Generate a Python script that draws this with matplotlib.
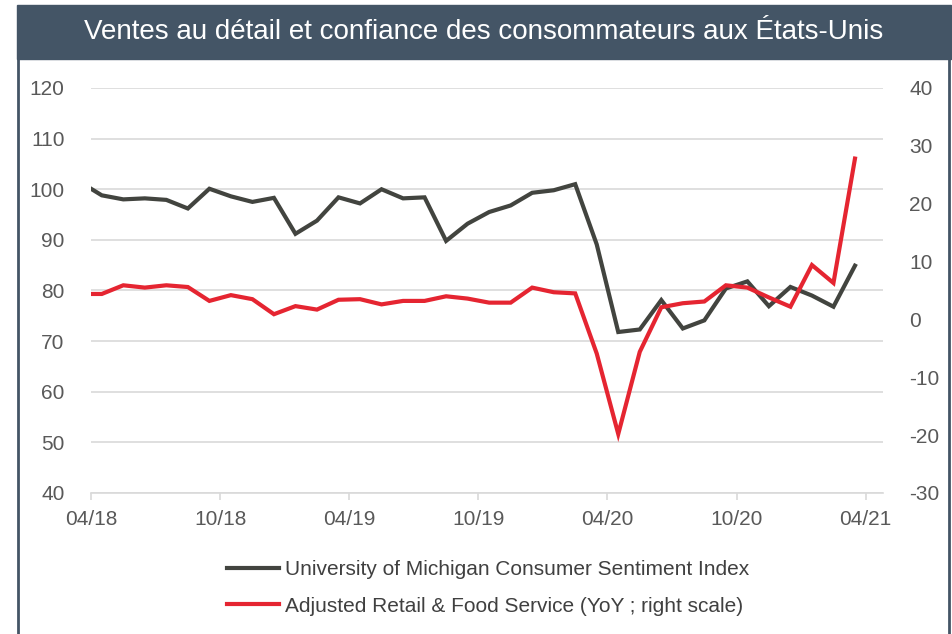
import numpy as np
import matplotlib
matplotlib.use("Agg")
import matplotlib.pyplot as plt
from matplotlib.patches import Rectangle
from matplotlib.lines import Line2D

plt.rcParams['font.family'] = ['Liberation Sans', 'DejaVu Sans']
plt.rcParams['axes.unicode_minus'] = False

# données mensuelles, de 03/2018 à 03/2021
sentiment = [101.4, 98.8, 98.0, 98.2, 97.9, 96.2, 100.1, 98.6, 97.5, 98.3,
             91.2, 93.8, 98.4, 97.2, 100.0, 98.2, 98.4, 89.8, 93.2, 95.5, 96.8, 99.3,
             99.8, 101.0, 89.1, 71.8, 72.3, 78.1, 72.5, 74.1, 80.4, 81.8, 76.9, 80.7,
             79.0, 76.8, 84.9]
retail_yoy = [4.4, 4.4, 5.9, 5.5, 5.9, 5.6, 3.2, 4.2, 3.5, 0.9,
              2.3, 1.7, 3.4, 3.5, 2.6, 3.2, 3.2, 4.0, 3.6, 2.9, 2.9, 5.5,
              4.7, 4.5, -5.9, -19.8, -5.6, 2.1, 2.8, 3.1, 5.9, 5.5, 3.8, 2.2,
              9.4, 6.3, 27.8]
tick_labels = ['04/18', '10/18', '04/19', '10/19', '04/20', '10/20', '04/21']
label_sentiment = 'University of Michigan Consumer Sentiment Index'
label_retail = 'Adjusted Retail & Food Service (YoY ; right scale)'
title = 'Ventes au détail et confiance des consommateurs aux États-Unis'

slate = '#445566'
dark = '#42443f'
red = '#e52531'
txt = '#595959'

# mois centrés : 04/18 = 0.5
x = np.arange(len(sentiment)) - 0.5

fig = plt.figure(figsize=(9.53, 6.34), dpi=100)
ax = fig.add_axes([0.0955, 0.2224, 0.831, 0.6388])
ax2 = ax.twinx()

ax.plot(x, sentiment, color=dark, lw=3, solid_joinstyle='miter', label=label_sentiment)
ax2.plot(x, retail_yoy, color=red, lw=3, solid_joinstyle='miter', label=label_retail)

ax.set_xlim(0, 36.8)
ax.set_ylim(40, 120)
ax.set_yticks(np.arange(40, 121, 10))
ax2.set_ylim(-30, 40)
ax2.set_yticks(np.arange(-30, 41, 10))
ax.set_xticks(np.arange(0, 37, 6))
ax.set_xticklabels(tick_labels)

ax.grid(axis='y', color='#d9d9d9', lw=1.2)
ax.set_axisbelow(True)
for a in (ax, ax2):
    for s in ['top', 'left', 'right', 'bottom']:
        a.spines[s].set_visible(False)
ax.spines['bottom'].set_visible(True)
ax.spines['bottom'].set_color('#d9d9d9')
ax.spines['bottom'].set_linewidth(1.2)

ax.tick_params(axis='y', length=0, pad=19, labelsize=15, labelcolor=txt)
ax2.tick_params(axis='y', length=0, pad=19, labelsize=15, labelcolor=txt)
ax.tick_params(axis='x', length=5, width=1.2, color='#d9d9d9', pad=7,
               labelsize=15, labelcolor=txt)

# légende sous le graphique
handles = [Line2D([], [], color=dark, lw=3), Line2D([], [], color=red, lw=3)]
leg = fig.legend(handles, [label_sentiment, label_retail], loc='center',
                 bbox_to_anchor=(0.512, 0.073), frameon=False, fontsize=15,
                 handlelength=2.5, handletextpad=0.3, labelspacing=0.85)
for t in leg.get_texts():
    t.set_color('#404040')

# bandeau de titre et cadre
fig.add_artist(Rectangle((17 / 953, 1 - 59 / 634), 934 / 953, 54 / 634,
                         transform=fig.transFigure, color=slate, zorder=0))
fig.add_artist(Line2D([18 / 953, 18 / 953], [0, 1 - 59 / 634], transform=fig.transFigure,
                      color=slate, lw=2))
fig.add_artist(Line2D([949 / 953, 949 / 953], [0, 1 - 59 / 634], transform=fig.transFigure,
                      color=slate, lw=2))
fig.text(484 / 953, 1 - 32 / 634, title, ha='center', va='center', color='white',
         fontsize=20)

fig.savefig('out.png', dpi=100)
